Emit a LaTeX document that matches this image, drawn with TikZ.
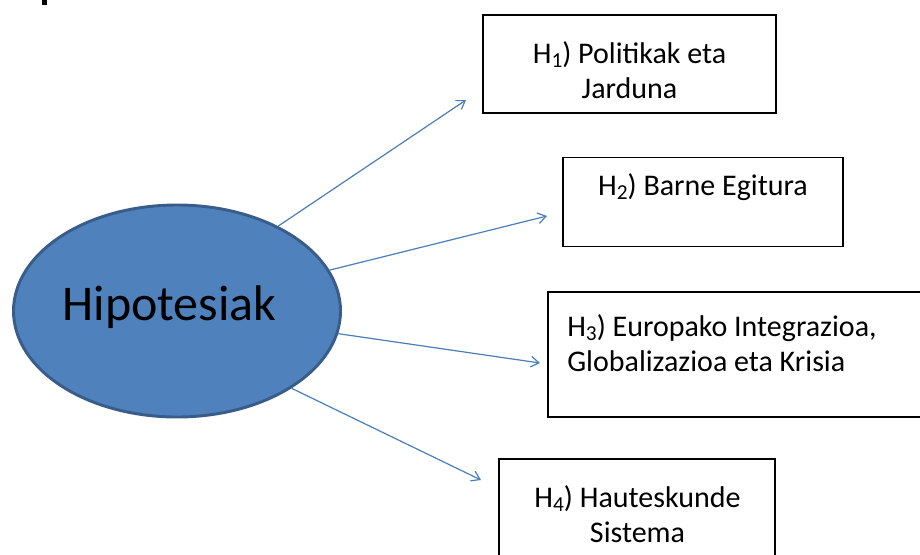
\documentclass[tikz,border=0pt]{standalone}
\usepackage{fontspec}
\setmainfont{Carlito}
\usetikzlibrary{shapes.geometric,arrows.meta}
\definecolor{ellfill}{HTML}{4F81BD}
\definecolor{elldraw}{HTML}{385D8A}
\definecolor{arrcol}{HTML}{4A7EBB}
\newcommand\hsub[1]{\raisebox{-0.15em}{\fontsize{16}{16}\selectfont #1}}
\tikzset{
  hbox/.style={draw=black, line width=1.2pt, inner sep=0pt, outer sep=0pt, fill=white},
  htext/.style={anchor=base, inner sep=0pt, font=\fontsize{22.5}{26.6}\selectfont},
  hyparrow/.style={draw=arrcol, line width=0.9pt, -{Straight Barb[length=6pt,width=8pt,line width=0.9pt]}},
  hypell/.style={ellipse, draw=elldraw, fill=ellfill, line width=2.2pt, inner sep=0pt,
    minimum width=327*0.75pt, minimum height=212*0.75pt}
}
\begin{document}
\begin{tikzpicture}[x=0.75pt,y=-0.75pt]
\useasboundingbox (0,0) rectangle (920,554);
\clip (0,0) rectangle (920,554);
\fill[white] (0,0) rectangle (920,554);
\fill[black] (42,0) rectangle (47,5);
% ellipse
\node[hypell] (hyp) at (177,311) {};
\node[anchor=base, inner sep=0pt, font=\fontsize{37.5}{42}\selectfont] (hypt) at (169.5,320) {Hipotesiak};
% boxes
\node[hbox, minimum width=293*0.75pt, minimum height=98*0.75pt] (h1) at (629.5,64) {};
\node[hbox, minimum width=280*0.75pt, minimum height=89*0.75pt] (h2) at (703,202) {};
\node[hbox, minimum width=387*0.75pt, minimum height=125*0.75pt] (h3) at (741.5,354.5) {};
\node[hbox, minimum width=276*0.75pt, minimum height=111*0.75pt] (h4) at (637,514.5) {};
% texts
\node[htext] (h1t) at (629.5,63) {\begin{tabular}[t]{@{}c@{}}H\hsub{1}) Politikak eta\\Jarduna\end{tabular}};
\node[htext] (h2t) at (703,195) {H\hsub{2}) Barne Egitura};
\node[htext, anchor=base west] (h3t) at (567,336) {\begin{tabular}[t]{@{}l@{}}H\hsub{3}) Europako Integrazioa,\\Globalizazioa eta Krisia\end{tabular}};
\node[htext] (h4t) at (637.5,507) {\begin{tabular}[t]{@{}c@{}}H\hsub{4}) Hauteskunde\\Sistema\end{tabular}};
% arrow ends
\coordinate (t1) at (466,100);
\coordinate (t2) at (547,216);
\coordinate (t3) at (540,363);
\coordinate (t4) at (481,480);
\draw[hyparrow] (hyp.40) -- (t1);
\draw[hyparrow] (hyp.15) -- (t2);
\draw[hyparrow] (hyp.-8) -- (t3);
\draw[hyparrow] (hyp.-34) -- (t4);
\end{tikzpicture}
\end{document}
